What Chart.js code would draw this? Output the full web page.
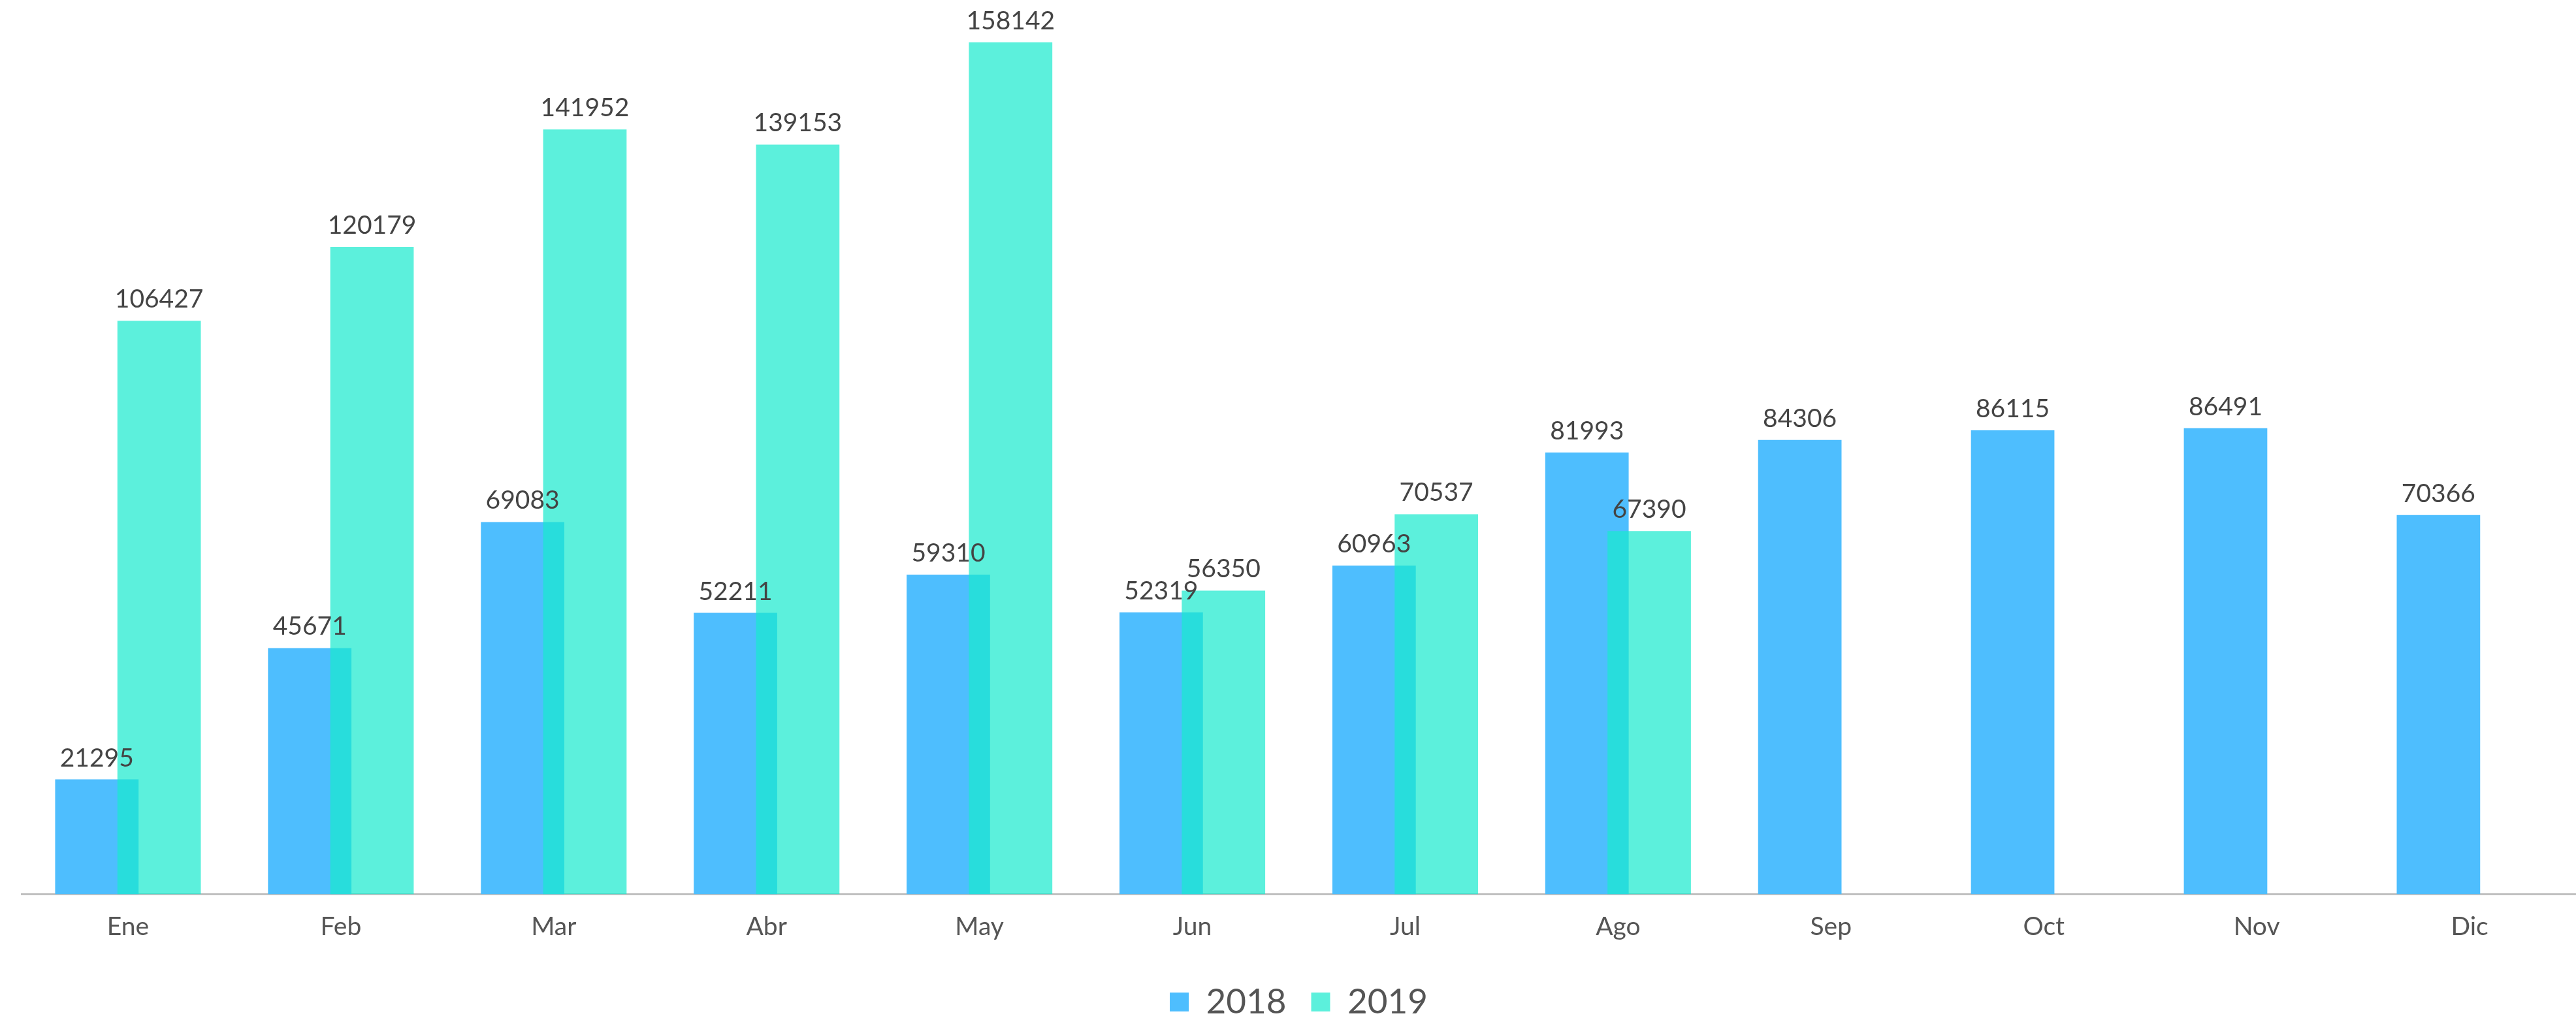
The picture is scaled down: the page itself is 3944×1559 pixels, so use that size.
<!DOCTYPE html>
<html>
<head>
<meta charset="utf-8">
<title>2018 vs 2019</title>
<script src="https://cdn.jsdelivr.net/npm/chart.js@4.4.1/dist/chart.umd.min.js"></script>
<style>
    html, body { margin: 0; padding: 0; background: #ffffff; }
    #wrap { width: 3944px; height: 1559px; position: relative; }
</style>
</head>
<body>
<div id="wrap"><canvas id="monthChart"></canvas></div>
<script>
/* ==========================================
   Datos
========================================== */

const meses = ["Ene", "Feb", "Mar", "Abr", "May", "Jun", "Jul", "Ago", "Sep", "Oct", "Nov", "Dic"];

const datos2018 = [21295, 45671, 69083, 52211, 59310, 52319, 60963, 81993, 84306, 86115, 86491, 70366];

const datos2019 = [106427, 120179, 141952, 139153, 158142, 56350, 70537, 67390, null, null, null, null];

const series = ["2018", "2019"];

const FONT = "Lato, 'Noto Sans', sans-serif";

// 2019 se dibuja encima de 2018 (la zona de cruce queda más oscura)
const ordenDibujo = {
    id: "ordenDibujo",
    beforeDatasetsDraw(chart) {
        [0, 1].forEach(i => chart.getDatasetMeta(i).controller.draw());
        return false;
    }
};

// Valores encima de cada barra
const etiquetas = {
    id: "etiquetas",
    afterDraw(chart) {
        const ctx = chart.ctx;
        ctx.save();
        ctx.font = "39px " + FONT;
        ctx.fillStyle = "#444444";
        ctx.textAlign = "center";
        ctx.textBaseline = "alphabetic";
        chart.data.datasets.forEach((ds, i) => {
            chart.getDatasetMeta(i).data.forEach((bar, j) => {
                const v = ds.data[j];
                if (v === null || v === undefined) return;
                ctx.fillText(String(v), bar.x, bar.y - 20);
            });
        });
        ctx.restore();
    }
};

new Chart(document.getElementById("monthChart"), {

    type: "bar",

    data: {
        labels: meses,
        datasets: [{
            label: series[0],
            data: datos2018,
            backgroundColor: "#4ebefe",
            barPercentage: 1.34,
            categoryPercentage: 0.585
        }, {
            label: series[1],
            data: datos2019,
            backgroundColor: "rgba(26,234,205,0.71)",
            barPercentage: 1.34,
            categoryPercentage: 0.585
        }]
    },

    options: {
        responsive: true,
        maintainAspectRatio: false,
        devicePixelRatio: 1,
        animation: false,
        layout: {
            padding: { left: 33, right: 0, top: 0, bottom: -12 }
        },
        plugins: {
            tooltip: { enabled: false },
            legend: {
                position: "bottom",
                labels: {
                    boxWidth: 29,
                    boxHeight: 29,
                    padding: 38,
                    color: "#555555",
                    font: { family: FONT, size: 53 }
                }
            }
        },
        scales: {
            x: {
                grid: { display: false, drawTicks: false },
                border: { display: true, color: "#c0c0c0", width: 3 },
                ticks: {
                    color: "#555555",
                    padding: 27,
                    font: { family: FONT, size: 39 }
                }
            },
            y: {
                display: false,
                min: 0,
                max: 166000
            }
        }
    },

    plugins: [ordenDibujo, etiquetas]

});
</script>
</body>
</html>
